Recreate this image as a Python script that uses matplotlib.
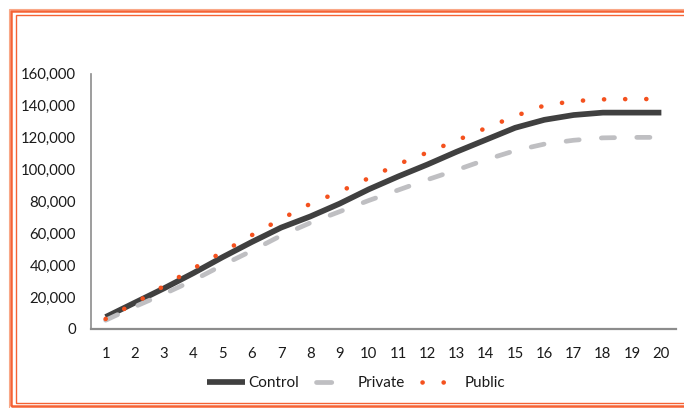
# coding: utf-8

import numpy as np
import matplotlib
matplotlib.use('Agg')
import matplotlib.pyplot as plt
from matplotlib.patches import Rectangle
from matplotlib.ticker import FuncFormatter

# values
years = list(range(1, 21))
control = [7500, 16500, 25500, 35000, 45000, 54500, 63500, 70500, 78500, 87500,
           95500, 103000, 111000, 118500, 126000, 131000, 134000, 135500, 135500, 135500]
private = [5500, 14000, 22000, 30500, 40000, 49000, 58500, 66500, 73500, 80500,
           87000, 93500, 99600, 106000, 111700, 115800, 118200, 119700, 120000, 120000]
public = [6300, 16200, 27000, 37900, 48200, 58800, 68900, 78400, 86000, 94500,
          103200, 110500, 118100, 125800, 133300, 140000, 142700, 143800, 144000, 144000]
y_ticks = [0, 20000, 40000, 60000, 80000, 100000, 120000, 140000, 160000]

W, H = 684, 408
plt.rcParams['font.family'] = ['Lato', 'DejaVu Sans']
plt.rcParams['lines.scale_dashes'] = False
text_color = '#1a1a1a'
orange = '#F4511E'

fig = plt.figure(figsize=(W / 100, H / 100), dpi=100)
ax = fig.add_axes([91 / W, (H - 329) / H, (676 - 91) / W, (329 - 73.5) / H])

ax.plot(years, control, color='#404040', lw=4.1, solid_capstyle='butt',
        solid_joinstyle='round', label='Control')
ax.plot(years, private, color='#BFBFC2', lw=3.4, dashes=(9.5, 16),
        dash_capstyle='round', label='Private')
ax.plot(years, public, color=orange, lw=3.3, dashes=(0.1, 15.1),
        dash_capstyle='round', label='Public')

ax.set_xlim(0.5, 20.5)
ax.set_ylim(0, 160000)
ax.set_xticks(years)
ax.set_yticks(y_ticks)
ax.yaxis.set_major_formatter(FuncFormatter(lambda v, p: '{:,.0f}'.format(v)))
ax.tick_params(axis='both', length=0, labelsize=10.7, colors=text_color)
ax.tick_params(axis='y', pad=11)
ax.tick_params(axis='x', pad=13)

for side in ['top', 'right']:
    ax.spines[side].set_visible(False)
ax.spines['left'].set_color('#8c8c8c')
ax.spines['left'].set_linewidth(1.2)
ax.spines['bottom'].set_color('#8c8c8c')
ax.spines['bottom'].set_linewidth(1.6)

leg = fig.legend(loc='center', bbox_to_anchor=(0.52, (H - 383) / H), ncol=3,
                 frameon=False, fontsize=11, handlelength=2.5,
                 handletextpad=0.25, columnspacing=1.1)
for t in leg.get_texts():
    t.set_color(text_color)
# legend handle of Private shows one dash only
leg.get_lines()[1].set_dashes((11, 40))

# double orange frame (right edge runs off the picture)
fig.patches.append(Rectangle((11 / W, 1 - 406 / H), 800 / W, 395 / H,
                             transform=fig.transFigure, fill=False,
                             edgecolor=orange, lw=1.8, alpha=0.9))
fig.patches.append(Rectangle((8.5 / W, 1 - 408.5 / H), 800 / W, 400 / H,
                             transform=fig.transFigure, fill=False,
                             edgecolor='#F9A888', lw=0.8))
fig.patches.append(Rectangle((16 / W, 1 - 403 / H), 800 / W, 388 / H,
                             transform=fig.transFigure, fill=False,
                             edgecolor=orange, lw=1.0, alpha=0.9))

fig.savefig('out.png', dpi=100)
